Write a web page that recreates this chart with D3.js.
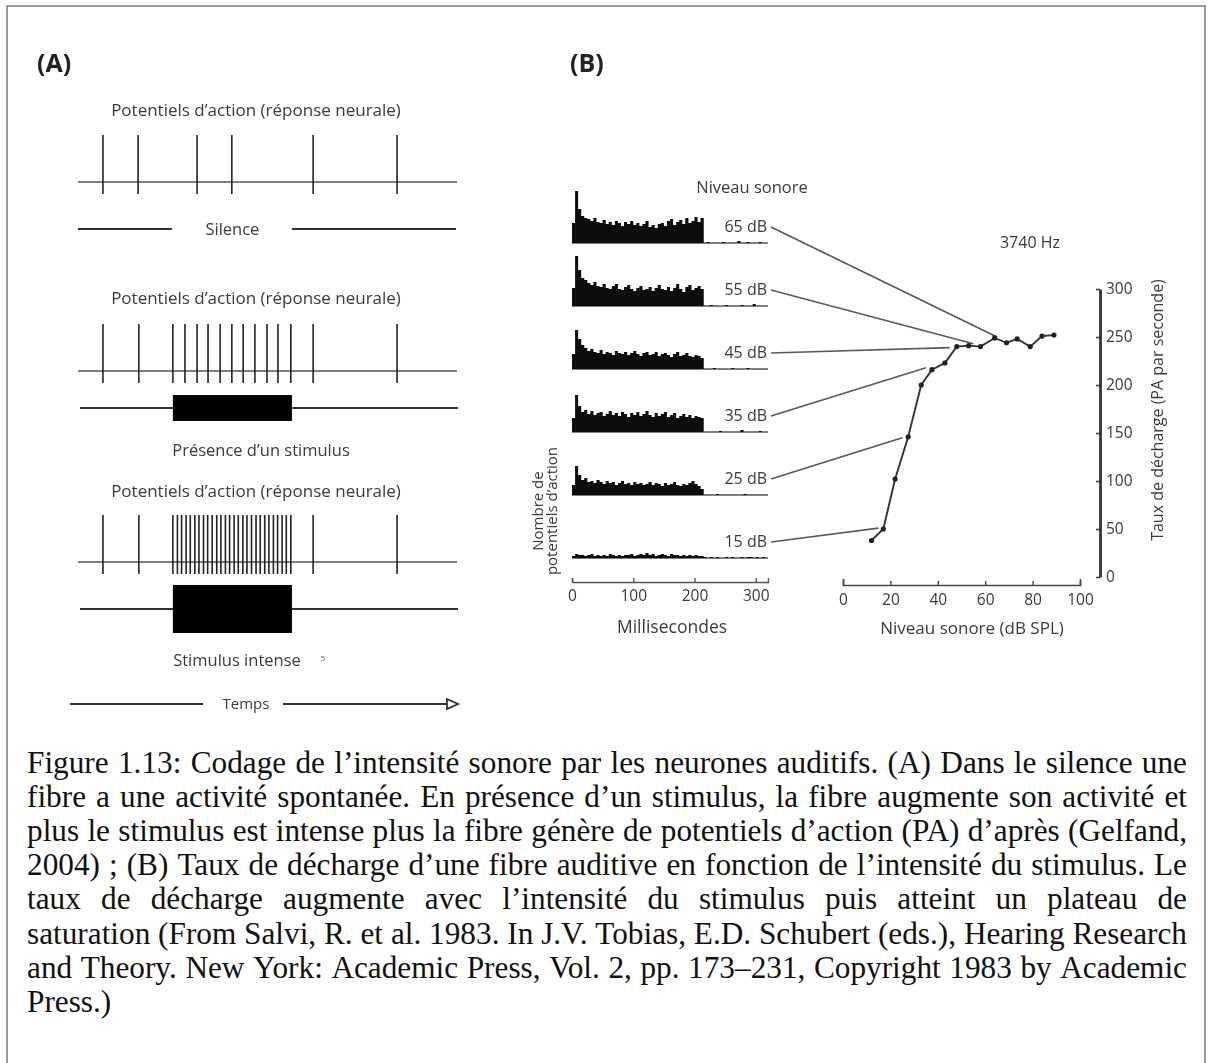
<!DOCTYPE html>
<html>
<head>
<meta charset="utf-8">
<script src="https://cdn.jsdelivr.net/npm/d3@7"></script>
<style>
  body { margin: 0; background: #fff; }
</style>
</head>
<body>
<svg id="fig" width="1212" height="1063"></svg>
<script>
// ---------- Panel A: spike trains (time in arbitrary units 0–1000) ----------
const trainTitles = ["Potentiels d’action (réponse neurale)", "Potentiels d’action (réponse neurale)", "Potentiels d’action (réponse neurale)"];
const spikesSilence  = [66, 159, 315, 407, 622, 844];
const spikesStimulus = [66, 161, 251, 283, 315, 344, 376, 407, 437, 468, 500, 529, 563, 622, 844];
const spikesIntense  = [66, 161, 251, 263, 274, 286, 297, 309, 320, 332, 343, 355, 367, 378, 390, 401,
                        413, 424, 436, 447, 459, 471, 482, 494, 505, 517, 528, 540, 551, 563, 622, 844];
const stimulusWindow = [251, 566];
const stimulusIntensity = [0, 0.54, 1];          // silence, stimulus, intense stimulus
const stimulusLabels = ["Silence", "Présence d’un stimulus", "Stimulus intense"];

// ---------- Panel B: post-stimulus histograms (5 ms bins, 0–315 ms) ----------
const soundLevels = [65, 55, 45, 35, 25, 15];    // dB
const binWidthMs = 5;
const histo65 = [20, 52, 34, 27, 25, 24, 22, 25, 21, 20, 23, 19, 21, 18, 22, 20, 17, 21, 19, 22, 18, 20,
                 17, 19, 22, 16, 18, 15, 19, 20, 17, 22, 24, 18, 21, 23, 19, 25, 20, 22, 26, 21, 25,
                 0, 1, 0, 0, 0, 0, 1, 0, 0, 0, 0, 2, 0, 0, 1, 0, 0, 0, 1, 0];
const histo55 = [18, 50, 36, 28, 26, 23, 21, 24, 20, 19, 22, 18, 17, 20, 22, 17, 16, 19, 21, 17, 15, 18,
                 20, 16, 17, 19, 15, 18, 21, 17, 16, 19, 15, 18, 22, 17, 14, 19, 21, 16, 18, 20, 17,
                 0, 0, 1, 0, 0, 0, 0, 1, 0, 0, 0, 0, 1, 0, 0, 0, 2, 0, 0, 0];
const histo45 = [15, 39, 30, 24, 21, 18, 20, 17, 16, 19, 15, 17, 16, 14, 18, 16, 15, 17, 14, 16, 18, 15,
                 13, 16, 17, 14, 15, 17, 13, 15, 16, 14, 12, 15, 17, 13, 14, 16, 13, 12, 14, 13, 11,
                 0, 0, 0, 1, 0, 0, 0, 0, 0, 1, 0, 0, 0, 0, 1, 0, 0, 0, 0, 0];
const histo35 = [14, 37, 26, 20, 22, 18, 21, 17, 19, 20, 16, 18, 21, 17, 19, 16, 20, 18, 15, 19, 17, 20,
                 16, 18, 21, 17, 15, 19, 16, 18, 20, 15, 17, 19, 14, 16, 18, 15, 17, 14, 16, 15, 14,
                 0, 0, 0, 0, 0, 1, 0, 0, 0, 0, 0, 0, 2, 0, 0, 0, 0, 0, 1, 0];
const histo25 = [10, 29, 20, 15, 17, 13, 14, 12, 15, 13, 11, 14, 12, 13, 10, 12, 14, 11, 12, 10, 13, 11,
                 12, 10, 11, 13, 10, 12, 11, 9, 12, 10, 11, 13, 10, 9, 11, 10, 12, 14, 11, 9, 6,
                 0, 0, 0, 0, 1, 0, 0, 0, 0, 0, 0, 0, 0, 1, 0, 0, 0, 0, 0, 0];
const histo15 = [2, 4, 3, 3, 2, 3, 4, 2, 3, 2, 3, 2, 4, 3, 2, 3, 2, 3, 3, 4, 2, 3, 4, 3, 5, 3, 4, 2, 3,
                 4, 3, 2, 4, 3, 3, 2, 3, 2, 3, 2, 3, 2, 2,
                 1, 0, 1, 0, 1, 0, 0, 1, 0, 1, 0, 0, 1, 0, 1, 1, 0, 1, 0, 1];
const histograms = [histo65, histo55, histo45, histo35, histo25, histo15];
const msTicks = [0, 100, 200, 300];

// ---------- Panel B: rate–level function, 3740 Hz fibre ----------
const rateLevelDb   = [12, 17, 22, 27.5, 33, 37.5, 43, 48, 53, 58, 64, 69, 73.5, 79, 84, 89];
const rateLevelRate = [38, 50, 102, 146, 200, 216, 223, 240, 241, 240, 249, 244, 248, 240, 251, 252];
const connectorRate = [250, 243, 239, 218, 145, 51];   // where each histogram points on the curve
const dbTicks = [0, 20, 40, 60, 80, 100];
const rateTicks = [0, 50, 100, 150, 200, 250, 300];

// ---------- Caption ----------
const captionLines = [
  "Figure 1.13: Codage de l’intensité sonore par les neurones auditifs. (A) Dans le silence une",
  "fibre a une activité spontanée. En présence d’un stimulus, la fibre augmente son activité et",
  "plus le stimulus est intense plus la fibre génère de potentiels d’action (PA) d’après (Gelfand,",
  "2004) ; (B) Taux de décharge d’une fibre auditive en fonction de l’intensité du stimulus. Le",
  "taux de décharge augmente avec l’intensité du stimulus puis atteint un plateau de",
  "saturation (From Salvi, R. et al. 1983. In J.V. Tobias, E.D. Schubert (eds.), Hearing Research",
  "and Theory. New York: Academic Press, Vol. 2, pp. 173–231, Copyright 1983 by Academic",
  "Press.)"
];

const svg = d3.select("#fig");
const sans = '"Open Sans", "Noto Sans", sans-serif';
const ink = "#222", textInk = "#3a3a3a", lineInk = "#555";
const fs = 16.5, tickFs = 15.5;

// slight softening of the drawn panels
svg.append("defs").append("filter").attr("id", "soft")
  .append("feGaussianBlur").attr("stdDeviation", 0.45);

// frame
svg.append("rect").attr("x", 7).attr("y", 6).attr("width", 1198).attr("height", 1100)
  .attr("fill", "none").attr("stroke", "#9a9a9a").attr("stroke-width", 2);

// ======================= Panel A =======================
const A = svg.append("g").attr("font-family", sans).attr("filter", "url(#soft)");
A.append("text").attr("x", 37).attr("y", 72).attr("font-size", 25).attr("font-weight", 700)
  .attr("fill", "#222").text("(A)");

const tA = d3.scaleLinear().domain([0, 1000]).range([78, 456]);
const trainBase = [182, 371, 562];
const titleY = [110, 298, 491];
const stimLineY = [229, 408, 609];
const spikeUp = 47, spikeDown = 12;
const envelope = d3.scaleLinear().domain([0, 1]).range([0, 24]);
const trains = [spikesSilence, spikesStimulus, spikesIntense];

trains.forEach((spk, i) => {
  A.append("text").attr("x", 256).attr("y", titleY[i] + 6).attr("text-anchor", "middle")
    .attr("font-size", 17).attr("fill", textInk).text(trainTitles[i]);
  A.append("line").attr("x1", tA(0)).attr("x2", tA(1000) + 1)
    .attr("y1", trainBase[i]).attr("y2", trainBase[i])
    .attr("stroke", lineInk).attr("stroke-width", 1.7);
  A.selectAll(null).data(spk).join("line")
    .attr("x1", d => tA(d)).attr("x2", d => tA(d))
    .attr("y1", trainBase[i] - spikeUp).attr("y2", trainBase[i] + spikeDown)
    .attr("stroke", ink).attr("stroke-width", 1.6);

  const y = stimLineY[i];
  if (stimulusIntensity[i] === 0) {
    // silence: line interrupted around its label
    A.append("line").attr("x1", tA(0)).attr("x2", tA(stimulusWindow[0]) - 1).attr("y1", y).attr("y2", y)
      .attr("stroke", "#333").attr("stroke-width", 2.2);
    A.append("line").attr("x1", tA(stimulusWindow[1])).attr("x2", tA(1000)).attr("y1", y).attr("y2", y)
      .attr("stroke", "#333").attr("stroke-width", 2.2);
    A.append("text").attr("x", tA((stimulusWindow[0] + stimulusWindow[1]) / 2)).attr("y", y + 6)
      .attr("text-anchor", "middle").attr("font-size", fs).attr("fill", textInk).text(stimulusLabels[i]);
  } else {
    A.append("line").attr("x1", tA(0) + 2).attr("x2", tA(1000) + 2).attr("y1", y).attr("y2", y)
      .attr("stroke", "#333").attr("stroke-width", 2.2);
    const h = envelope(stimulusIntensity[i]);
    A.append("rect").attr("x", tA(stimulusWindow[0])).attr("width", tA(stimulusWindow[1]) - tA(stimulusWindow[0]))
      .attr("y", y - h).attr("height", 2 * h).attr("fill", "#000");
  }
});
A.append("text").attr("x", 261).attr("y", 456).attr("text-anchor", "middle")
  .attr("font-size", fs).attr("fill", textInk).text(stimulusLabels[1]);
A.append("text").attr("x", 237).attr("y", 666).attr("text-anchor", "middle")
  .attr("font-size", fs).attr("fill", textInk).text(stimulusLabels[2]);
A.append("text").attr("x", 323).attr("y", 661).attr("text-anchor", "middle")
  .attr("font-size", 8).attr("fill", "#666").text("5");

// time arrow
A.append("line").attr("x1", 70).attr("x2", 203).attr("y1", 704).attr("y2", 704).attr("stroke", "#333").attr("stroke-width", 1.8);
A.append("line").attr("x1", 283).attr("x2", 447).attr("y1", 704).attr("y2", 704).attr("stroke", "#333").attr("stroke-width", 1.8);
A.append("path").attr("d", "M447,699 L458,704 L447,709 Z").attr("fill", "#fff").attr("stroke", "#333").attr("stroke-width", 1.8);
A.append("text").attr("x", 246).attr("y", 709).attr("text-anchor", "middle").attr("font-size", 15)
  .attr("fill", textInk).text("Temps");

// ======================= Panel B =======================
const B = svg.append("g").attr("font-family", sans).attr("filter", "url(#soft)");
B.append("text").attr("x", 570).attr("y", 72).attr("font-size", 25).attr("font-weight", 700)
  .attr("fill", "#222").text("(B)");

const xMs = d3.scaleLinear().domain([0, 320]).range([572, 768]);
const count = d3.scaleLinear().domain([0, 60]).range([0, 60]);
const histBase0 = 243, histStep = 63;

B.append("text").attr("x", 752).attr("y", 193).attr("text-anchor", "middle").attr("font-size", fs)
  .attr("fill", textInk).text("Niveau sonore");

histograms.forEach((bins, i) => {
  const base = histBase0 + i * histStep;
  const pts = bins.map((v, j) => [j * binWidthMs, v]);
  pts.push([bins.length * binWidthMs, bins[bins.length - 1]]);
  const area = d3.area().curve(d3.curveStepAfter)
    .x(d => xMs(d[0])).y0(base).y1(d => base - count(d[1]));
  B.append("line").attr("x1", xMs(0)).attr("x2", xMs(320)).attr("y1", base).attr("y2", base)
    .attr("stroke", lineInk).attr("stroke-width", 1.4);
  B.append("path").attr("d", area(pts)).attr("fill", "#0a0a0a");

  const ly = base - 17;
  B.append("text").attr("x", 767).attr("y", ly + 5.5).attr("text-anchor", "end").attr("font-size", 16)
    .attr("fill", textInk).text(soundLevels[i] + " dB");
});

// millisecond axis
const msAxis = B.append("g").attr("transform", "translate(0,582)")
  .call(d3.axisBottom(xMs).tickValues(msTicks).tickSizeInner(-4).tickSizeOuter(-4).tickPadding(8));
msAxis.select(".domain").attr("stroke", lineInk).attr("stroke-width", 1.4);
msAxis.selectAll(".tick line").attr("stroke", lineInk).attr("stroke-width", 1.4);
msAxis.selectAll(".tick text").attr("font-size", tickFs).attr("fill", textInk).attr("font-family", sans);
B.append("text").attr("x", 672).attr("y", 633).attr("text-anchor", "middle").attr("font-size", 17.5)
  .attr("fill", textInk).text("Millisecondes");

// vertical label of the histograms
const nl = B.append("text").attr("transform", "translate(546,511) rotate(-90)").attr("text-anchor", "middle")
  .attr("font-size", 15).attr("fill", textInk);
nl.append("tspan").attr("x", 0).attr("y", -3).text("Nombre de");
nl.append("tspan").attr("x", 0).attr("y", 11).text("potentiels d’action");

// rate–level function
const xDb = d3.scaleLinear().domain([0, 100]).range([843, 1080]);
const yRate = d3.scaleLinear().domain([0, 300]).range([577, 289]);

// connectors from each histogram label to the curve
soundLevels.forEach((lv, i) => {
  const ly = histBase0 + i * histStep - 17;
  B.append("line").attr("x1", 771).attr("y1", ly + 1)
    .attr("x2", xDb(lv)).attr("y2", yRate(connectorRate[i]))
    .attr("stroke", "#5a5a5a").attr("stroke-width", 1.7);
});

const pts = rateLevelDb.map((d, i) => [d, rateLevelRate[i]]);
B.append("path").attr("d", d3.line().x(d => xDb(d[0])).y(d => yRate(d[1]))(pts))
  .attr("fill", "none").attr("stroke", "#333").attr("stroke-width", 1.9);
B.selectAll(null).data(pts).join("circle")
  .attr("cx", d => xDb(d[0])).attr("cy", d => yRate(d[1])).attr("r", 2.6).attr("fill", "#222");

const dbAxis = B.append("g").attr("transform", "translate(0,585)")
  .call(d3.axisBottom(xDb).tickValues(dbTicks).tickSizeInner(-4).tickSizeOuter(-6).tickPadding(9));
dbAxis.select(".domain").attr("stroke", "#444").attr("stroke-width", 1.7);
dbAxis.selectAll(".tick line").attr("stroke", "#444").attr("stroke-width", 1.4);
dbAxis.selectAll(".tick text").attr("font-size", tickFs).attr("fill", textInk).attr("font-family", sans);
B.append("text").attr("x", 972).attr("y", 634).attr("text-anchor", "middle").attr("font-size", 17)
  .attr("fill", textInk).text("Niveau sonore (dB SPL)");

const rateAxis = B.append("g").attr("transform", "translate(1100,0)")
  .call(d3.axisRight(yRate).tickValues(rateTicks).tickSizeInner(-4).tickSizeOuter(0).tickPadding(6));
rateAxis.select(".domain").attr("stroke", "#333").attr("stroke-width", 2.8);
rateAxis.selectAll(".tick line").attr("stroke", "#333").attr("stroke-width", 1.5);
rateAxis.selectAll(".tick text").attr("font-size", tickFs).attr("fill", textInk).attr("font-family", sans);
B.append("text").attr("transform", "translate(1163,410) rotate(-90)").attr("text-anchor", "middle")
  .attr("font-size", 16).attr("fill", textInk).text("Taux de décharge (PA par seconde)");

B.append("text").attr("x", 1030).attr("y", 248).attr("text-anchor", "middle").attr("font-size", 16)
  .attr("fill", textInk).text("3740 Hz");

// ======================= Caption (justified) =======================
const capLeft = 27, capRight = 1187, capBase0 = 773, capLead = 34.1;
const capFamily = '"Liberation Serif", "Times New Roman", serif';
const cap = svg.append("g").attr("fill", "#111").attr("font-family", capFamily);
// font size chosen so the widest line fits the measure with ordinary spacing
const probe = cap.append("text").attr("font-size", 20);
const widest = d3.max(captionLines.slice(0, -1), s => probe.text(s).node().getComputedTextLength());
probe.remove();
const capSize = 20 * (capRight - capLeft) / widest;

captionLines.forEach((line, i) => {
  const words = line.split(" ");
  const y = capBase0 + i * capLead;
  const nodes = words.map(w => cap.append("text").attr("y", y).attr("font-size", capSize).text(w));
  const widths = nodes.map(n => n.node().getComputedTextLength());
  const last = i === captionLines.length - 1;
  const gap = last ? capSize * 0.25 : (capRight - capLeft - d3.sum(widths)) / (words.length - 1);
  let x = capLeft;
  nodes.forEach((n, j) => { n.attr("x", x); x += widths[j] + gap; });
});
</script>
</body>
</html>
